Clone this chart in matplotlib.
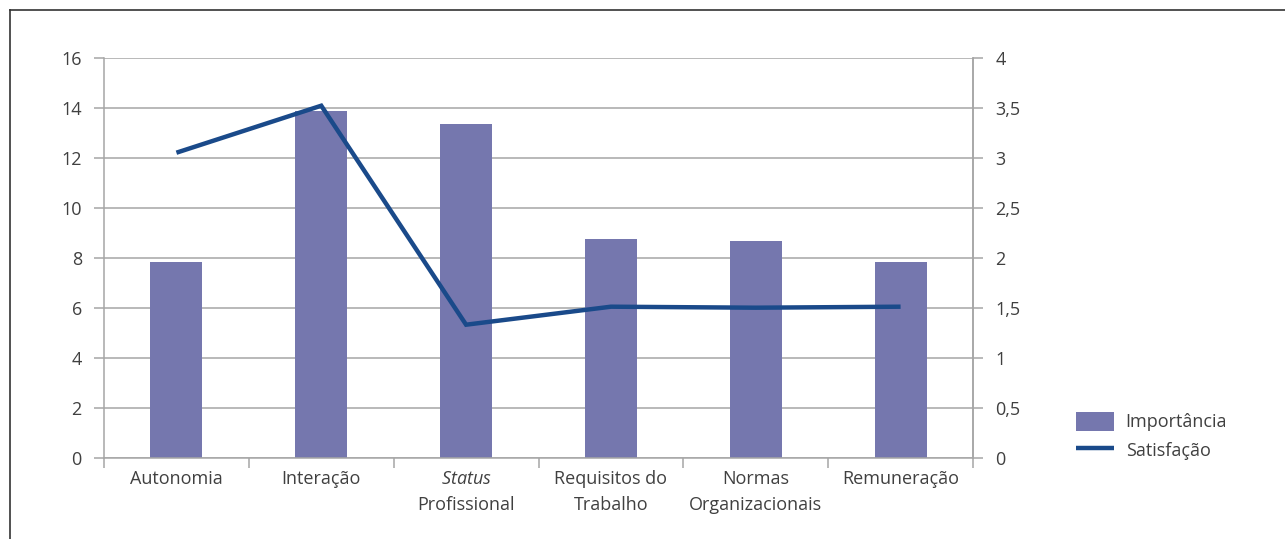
import matplotlib.pyplot as plt
import matplotlib.lines as mlines
import numpy as np

categories = ["Autonomia", "Interação", "$\\mathit{Status}$\nProfissional",
              "Requisitos do\nTrabalho", "Normas\nOrganizacionais", "Remuneração"]
importancia = [7.83, 13.87, 13.35, 8.75, 8.67, 7.83]
satisfacao = [3.05, 3.52, 1.33, 1.51, 1.50, 1.51]
left_ticks = [0, 2, 4, 6, 8, 10, 12, 14, 16]
right_ticks = [0, 0.5, 1, 1.5, 2, 2.5, 3, 3.5, 4]
right_labels = ["0", "0,5", "1", "1,5", "2", "2,5", "3", "3,5", "4"]

bar_color = "#7577ae"
line_color = "#1a4a8a"
text_color = "#404040"
grid_color = "#a6a6a6"
fs = 13

plt.rcParams['font.family'] = ['Open Sans', 'DejaVu Sans']
plt.rcParams['mathtext.fontset'] = 'custom'
plt.rcParams['mathtext.rm'] = 'Open Sans'
plt.rcParams['mathtext.it'] = 'Open Sans:italic'

fig = plt.figure(figsize=(12.85, 5.39), dpi=100)
ax = fig.add_axes([104 / 1285, 1 - 457.7 / 539, (973 - 104) / 1285, 400 / 539])

# frame around the figure (cut on right and bottom)
fig.add_artist(mlines.Line2D([10 / 1285, 10 / 1285], [0, 1 - 10 / 539],
                             transform=fig.transFigure, color="#333333", lw=1.2))
fig.add_artist(mlines.Line2D([10 / 1285, 1], [1 - 10 / 539, 1 - 10 / 539],
                             transform=fig.transFigure, color="#333333", lw=1.2))

x = np.arange(len(categories))
ax.bar(x, importancia, width=0.36, color=bar_color, zorder=2, label="Importância")
ax.set_xlim(-0.5, len(categories) - 0.5)
ax.set_ylim(0, 16)
ax.set_yticks(left_ticks)
ax.yaxis.grid(True, color=grid_color, lw=1.1)
ax.set_axisbelow(True)

ax.set_xticks(np.arange(len(categories) + 1) - 0.5)
ax.set_xticklabels([])
ax.set_xticks(x, minor=True)
ax.set_xticklabels(categories, minor=True, linespacing=1.55)
ax.tick_params(axis='x', which='major', length=7, color=grid_color, width=1.1)
ax.tick_params(axis='x', which='minor', length=0, pad=9, labelsize=fs, labelcolor=text_color)
ax.tick_params(axis='y', length=7, color=grid_color, width=1.1, pad=9,
               labelsize=fs, labelcolor=text_color)

ax.spines['top'].set_visible(False)
for side in ['left', 'right', 'bottom']:
    ax.spines[side].set_color(grid_color)
    ax.spines[side].set_linewidth(1.1)

ax2 = ax.twinx()
ax2.plot(x, satisfacao, color=line_color, lw=3.2, solid_capstyle='butt',
         solid_joinstyle='miter', label="Satisfação", zorder=3)
ax2.set_ylim(0, 4)
ax2.set_yticks(right_ticks)
ax2.set_yticklabels(right_labels)
ax2.tick_params(axis='y', length=7, color=grid_color, width=1.1, pad=9,
                labelsize=fs, labelcolor=text_color)
for side in ['top', 'left', 'bottom']:
    ax2.spines[side].set_visible(False)
ax2.spines['right'].set_color(grid_color)
ax2.spines['right'].set_linewidth(1.1)

h1, l1 = ax.get_legend_handles_labels()
h2, l2 = ax2.get_legend_handles_labels()
leg = fig.legend(h1 + h2, l1 + l2, loc='upper left',
                 bbox_to_anchor=(1076 / 1285, 1 - 412 / 539),
                 frameon=False, fontsize=fs, borderpad=0, borderaxespad=0,
                 handlelength=2.1, handleheight=1.2, handletextpad=0.65,
                 labelspacing=0.5)
for t in leg.get_texts():
    t.set_color(text_color)

fig.savefig("out.png", dpi=100)
